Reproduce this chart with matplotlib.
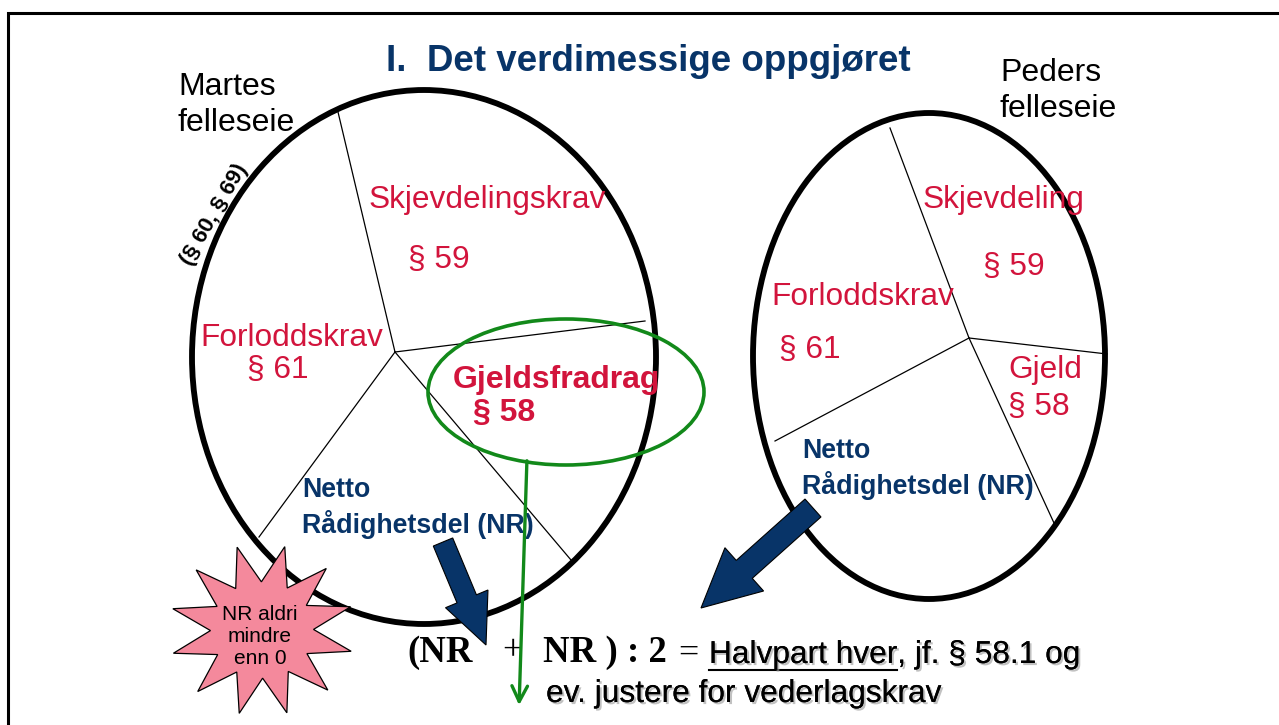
import numpy as np
import matplotlib.pyplot as plt
from matplotlib.patches import Ellipse, Polygon, FancyArrow
import matplotlib.patheffects as pe

plt.rcParams['font.family'] = ['Liberation Sans', 'DejaVu Sans']

W, H = 1279, 725
RED = '#D2143C'
NAVY = '#083468'
GREEN = '#12891A'

# ellipses: centre, width, height (pixel units)
left_ell = (424, 357, 464, 534)
right_ell = (929, 356, 352, 486)
gjeld_ell = (566, 392, 276, 146)

# spoke hubs and ends
left_hub = (395, 352)
left_spokes = [(338, 112), (645, 321), (571, 560), (259, 537)]
right_hub = (969, 338)
right_spokes = [(890, 128), (1107, 354), (1054, 523), (775, 441)]

# section labels: text, x, y, bold
left_labels = [('Skjevdelingskrav', 369, 200, False), ('§ 59', 408, 260, False),
               ('Forloddskrav', 200, 338, False), ('§ 61', 247, 370, False),
               ('Gjeldsfradrag', 453, 380, True), ('§ 58', 473, 413, True)]
right_labels = [('Skjevdeling', 923, 200, False), ('§ 59', 983, 267, False),
                ('Forloddskrav', 771, 297, False), ('§ 61', 779, 350, False),
                ('Gjeld', 1008, 370, False), ('§ 58', 1008, 407, False)]

fig = plt.figure(figsize=(W / 100, H / 100), dpi=100)
ax = fig.add_axes([0, 0, 1, 1])
ax.set_xlim(0, W)
ax.set_ylim(H, 0)
ax.axis('off')

# slide frame
ax.plot([8, 8, W], [H, 13, 13], color='black', lw=2.2, solid_joinstyle='miter')

ax.text(648, 61, 'I.  Det verdimessige oppgjøret', color=NAVY, fontsize=26.5,
        fontweight='bold', ha='center', va='center')

# the two pies
for (cx, cy, w, h) in [left_ell, right_ell]:
    ax.add_patch(Ellipse((cx, cy), w, h, fill=False, ec='black', lw=4.2, zorder=3))
for hub, ends in [(left_hub, left_spokes), (right_hub, right_spokes)]:
    for ex, ey in ends:
        ax.plot([hub[0], ex], [hub[1], ey], color='black', lw=0.9, zorder=2)

for labels in [left_labels, right_labels]:
    for txt, x, y, b in labels:
        ax.text(x, y, txt, color=RED, fontsize=23 if b else 22.8,
                fontweight='bold' if b else 'normal', ha='left', va='center', zorder=4)

ax.text(178, 105, 'Martes\nfelleseie', fontsize=23, ha='left', va='center', linespacing=1.25)
ax.text(1000, 91, 'Peders\nfelleseie', fontsize=23, ha='left', va='center', linespacing=1.22)
ax.text(214, 215, '(§ 60, § 69)', fontsize=16, fontweight='bold', rotation=60,
        ha='center', va='center')

ax.text(302, 508, 'Netto\nRådighetsdel (NR)', color=NAVY, fontsize=19.3, fontweight='bold',
        ha='left', va='center', linespacing=1.3, zorder=4)
ax.text(802, 469, 'Netto\nRådighetsdel (NR)', color=NAVY, fontsize=19.3, fontweight='bold',
        ha='left', va='center', linespacing=1.3, zorder=4)

# green ring and arrow from the debt deduction
ax.add_patch(Ellipse(gjeld_ell[:2], gjeld_ell[2], gjeld_ell[3], fill=False, ec=GREEN,
                     lw=2.6, zorder=3))
ax.annotate('', xy=(519, 708), xytext=(527, 458),
            arrowprops=dict(arrowstyle='->', color=GREEN, lw=2.4, mutation_scale=28),
            zorder=5)

# navy block arrows to the formula
ax.add_patch(FancyArrow(443, 542, 43, 103, width=21, head_width=46, head_length=50,
                        length_includes_head=True, fc=NAVY, ec='black', lw=0.8, zorder=6))
ax.add_patch(FancyArrow(813, 508, -112, 100, width=24, head_width=58, head_length=58,
                        length_includes_head=True, fc=NAVY, ec='black', lw=0.8, zorder=6))

# starburst
n_pts = 12
ang = np.linspace(0, 2 * np.pi, 2 * n_pts, endpoint=False) - np.pi / 2 + 0.25
rad = np.where(np.arange(2 * n_pts) % 2 == 0, 1.0, 0.56)
sx = 262 + 92 * rad * np.cos(ang)
sy = 630 + 86 * rad * np.sin(ang)
ax.add_patch(Polygon(np.column_stack([sx, sy]), closed=True, fc='#F4899C', ec='black',
                     lw=0.9, zorder=7))
ax.text(260, 637, 'NR aldri\nmindre\nenn 0', fontsize=15, ha='center', va='center',
        linespacing=1.2, zorder=8)

# formula
shadow = [pe.withSimplePatchShadow(offset=(1.5, -1.5), shadow_rgbFace='#999999', alpha=0.6),
          pe.Normal()]
ser = ['Liberation Serif', 'DejaVu Serif']
ax.text(407, 652, '(NR', family=ser, fontsize=26.5, fontweight='bold', ha='left', va='center')
ax.text(512, 652, '+', family=ser, fontsize=26, ha='center', va='center')
ax.text(543, 652, 'NR ) : 2', family=ser, fontsize=26.5, fontweight='bold', ha='left', va='center')
ax.text(688, 654, '=', family=ser, fontsize=26, ha='center', va='center')
t1 = ax.text(709, 655, 'Halvpart hver', fontsize=22.8, ha='left', va='center', path_effects=shadow)
fig.canvas.draw()
bb = t1.get_window_extent().transformed(ax.transData.inverted())
x0, x1 = min(bb.x0, bb.x1), max(bb.x0, bb.x1)
ax.plot([x0, x1], [670, 670], color='black', lw=1.5)
ax.text(x1, 655, ', jf. § 58.1 og', fontsize=22.8, ha='left', va='center', path_effects=shadow)
ax.text(546, 694, 'ev. justere for vederlagskrav', fontsize=22.8, ha='left', va='center',
        path_effects=shadow)

fig.savefig('out.png', dpi=100)
